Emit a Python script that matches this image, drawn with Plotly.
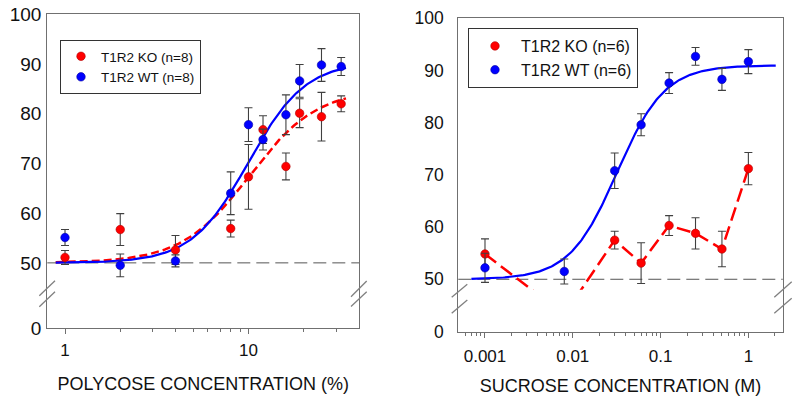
import numpy as np
import plotly.graph_objects as go

# ---------------- data ----------------
poly_x = [1, 2, 4, 8, 10, 12, 16, 19, 25, 32]
poly_ko = [51.1, 56.7, 52.6, 56.9, 67.3, 76.8, 69.4, 80.1, 79.4, 82.0]
poly_ko_err = [1.4, 3.2, 2.9, 1.7, 6.5, 2.8, 2.7, 2.9, 4.9, 1.6]
poly_wt = [55.1, 49.5, 50.4, 64.0, 77.8, 74.8, 79.8, 86.6, 89.8, 89.5]
poly_wt_err = [1.6, 2.3, 1.2, 4.3, 3.4, 2.1, 4.0, 3.3, 3.3, 1.8]

suc_x = [0.001, 0.008, 0.03, 0.06, 0.125, 0.25, 0.5, 1]
suc_ko = [54.85, 43.2, 57.5, 53.1, 60.3, 58.8, 55.8, 71.2]
suc_ko_err = [2.9, 0.0, 1.7, 3.9, 1.9, 3.0, 3.4, 3.1]
suc_wt = [52.2, 51.5, 70.8, 79.6, 87.6, 92.7, 88.3, 91.7]
suc_wt_err = [2.8, 2.4, 3.4, 2.1, 2.0, 1.7, 2.1, 2.3]

# Hill-fit parameters: (bottom, top, EC50, slope)
poly_wt_fit = (50, 90.5, 10.0, 2.8)
poly_ko_fit = (50, 85.0, 10.1, 2.35)
suc_wt_fit = (50, 91.0, 0.032, 1.6)
poly_fit_span = (0.89, 34)
suc_fit_span = (0.0007, 2.05)

y_ticks = [50, 60, 70, 80, 90, 100]
left_zero_pos = 36.9   # position of the "0" label below the axis break
right_zero_pos = 39.9

poly_xticks = [1, 10]
poly_minor = [2, 3, 4, 5, 6, 7, 8, 9, 20, 30]
suc_xticks = [0.001, 0.01, 0.1, 1]
suc_xtick_text = ["0.001", "0.01", "0.1", "1"]
suc_minor = [0.0006, 0.0007, 0.0008, 0.0009,
             0.002, 0.003, 0.004, 0.005, 0.006, 0.007, 0.008, 0.009,
             0.02, 0.03, 0.04, 0.05, 0.06, 0.07, 0.08, 0.09,
             0.2, 0.3, 0.4, 0.5, 0.6, 0.7, 0.8, 0.9, 2]

RED = "#ff0000"
BLUE = "#0000ff"
FONT = "Liberation Sans, Arial, sans-serif"
W, H = 799, 406


def hill(x, p):
    b, t, ec, h = p
    x = np.asarray(x, dtype=float)
    return b + (t - b) / (1 + (ec / x) ** h)


def px(x, y):
    return x / W, 1 - y / H


fig = go.Figure()

# ---------- left panel ----------
xf = np.logspace(np.log10(poly_fit_span[0]), np.log10(poly_fit_span[1]), 200)
fig.add_trace(go.Scatter(x=xf, y=hill(xf, poly_ko_fit), mode="lines", xaxis="x", yaxis="y",
                         line=dict(color=RED, width=2.5, dash="8px,4px"), showlegend=False, hoverinfo="skip"))
fig.add_trace(go.Scatter(x=xf, y=hill(xf, poly_wt_fit), mode="lines", xaxis="x", yaxis="y",
                         line=dict(color=BLUE, width=2.2), showlegend=False, hoverinfo="skip"))
err_style = dict(type="data", color="#404040", thickness=1.1, width=4)
fig.add_trace(go.Scatter(x=poly_x, y=poly_ko, mode="markers", xaxis="x", yaxis="y", name="T1R2 KO (n=8)",
                         error_y=dict(array=poly_ko_err, **err_style),
                         marker=dict(color=RED, size=8.5, line=dict(color="#b00000", width=0.6)),
                         legend="legend"))
fig.add_trace(go.Scatter(x=poly_x, y=poly_wt, mode="markers", xaxis="x", yaxis="y", name="T1R2 WT (n=8)",
                         error_y=dict(array=poly_wt_err, **err_style),
                         marker=dict(color=BLUE, size=8.5, line=dict(color="#0000a0", width=0.6)),
                         legend="legend"))

# ---------- right panel ----------
xs = np.logspace(np.log10(suc_fit_span[0]), np.log10(suc_fit_span[1]), 200)
fig.add_trace(go.Scatter(x=xs, y=hill(xs, suc_wt_fit), mode="lines", xaxis="x2", yaxis="y2",
                         line=dict(color=BLUE, width=2.2), showlegend=False, hoverinfo="skip"))
fig.add_trace(go.Scatter(x=suc_x, y=suc_ko, mode="lines", xaxis="x2", yaxis="y2",
                         line=dict(color=RED, width=2.5, dash="14px,6px"), showlegend=False, hoverinfo="skip"))
fig.add_trace(go.Scatter(x=suc_x, y=suc_ko, mode="markers", xaxis="x2", yaxis="y2", name="T1R2 KO (n=6)",
                         error_y=dict(array=suc_ko_err, **err_style),
                         marker=dict(color=RED, size=8.5, line=dict(color="#b00000", width=0.6)),
                         legend="legend2"))
fig.add_trace(go.Scatter(x=suc_x, y=suc_wt, mode="markers", xaxis="x2", yaxis="y2", name="T1R2 WT (n=6)",
                         error_y=dict(array=suc_wt_err, **err_style),
                         marker=dict(color=BLUE, size=8.5, line=dict(color="#0000a0", width=0.6)),
                         legend="legend2"))

AXC = "#707070"
common_x = dict(type="log", showgrid=False, zeroline=False, showline=True, linecolor=AXC, linewidth=1.3,
                mirror=True, ticks="outside", ticklen=5, tickcolor=AXC, tickwidth=1, automargin=False,
                tickfont=dict(family=FONT, size=17, color="#111"))
common_y = dict(showgrid=False, zeroline=False, showline=True, linecolor=AXC, linewidth=1.3, mirror=True,
                ticks="", automargin=False)
minor_style = dict(ticks="outside", ticklen=3, tickcolor=AXC, tickwidth=1, showgrid=False, tickmode="array")

fig.update_layout(
    template="none",
    width=W, height=H, margin=dict(l=0, r=0, t=0, b=0, autoexpand=False),
    paper_bgcolor="white", plot_bgcolor="white",
    font=dict(family=FONT, color="#111"),
    xaxis=dict(common_x, domain=[47.3 / W, 359.3 / W], range=[-0.0965, 1.604],
               tickmode="array", tickvals=poly_xticks, ticktext=[str(v) for v in poly_xticks],
               ticklabelstandoff=1, minor=dict(minor_style, tickvals=poly_minor),
               title=dict(text="POLYCOSE CONCENTRATION (%)", standoff=18,
                          font=dict(family=FONT, size=18, color="#111")), anchor="y"),
    yaxis=dict(common_y, domain=[(H - 328) / H, (H - 14.3) / H], range=[left_zero_pos, 100],
               tickmode="array", tickvals=[left_zero_pos] + y_ticks,
               ticktext=["0"] + [str(v) for v in y_ticks],
               tickfont=dict(family=FONT, size=19, color="#111"),
               ticklabelstandoff=1, anchor="x"),
    xaxis2=dict(common_x, domain=[458.3 / W, 782.7 / W], range=[-3.304, 0.391],
                tickmode="array", tickvals=suc_xticks, ticktext=suc_xtick_text,
                ticklabelstandoff=3, minor=dict(minor_style, tickvals=suc_minor),
                title=dict(text="SUCROSE CONCENTRATION (M)", standoff=14,
                           font=dict(family=FONT, size=18, color="#111")), anchor="y2"),
    yaxis2=dict(common_y, domain=[(H - 332) / H, (H - 18.3) / H], range=[right_zero_pos, 100],
                tickmode="array", tickvals=[right_zero_pos] + y_ticks,
                ticktext=["0"] + [str(v) for v in y_ticks],
                tickfont=dict(family=FONT, size=17.5, color="#111"),
                ticklabelstandoff=10, anchor="x2"),
    legend=dict(x=60 / W, y=1 - 40 / H, xanchor="left", yanchor="top", bordercolor="#333", borderwidth=1,
                bgcolor="white", font=dict(family=FONT, size=13.5, color="#111"), tracegroupgap=0),
    legend2=dict(x=468 / W, y=1 - 28 / H, xanchor="left", yanchor="top", bordercolor="#333", borderwidth=1,
                 bgcolor="white", font=dict(family=FONT, size=16, color="#111"), itemwidth=42, tracegroupgap=0),
)

shapes = []
# dashed reference line at 50
for xr, yr in (("x domain", "y"), ("x2 domain", "y2")):
    shapes.append(dict(type="line", xref=xr, yref=yr, x0=0, x1=1, y0=50, y1=50,
                       line=dict(color="#555", width=1, dash="13px,6px"), layer="below"))
# mask of the axis-break region in the right panel (hides the line segment below the break)
shapes.append(dict(type="rect", xref="x2 domain", yref="y2", x0=0.004, x1=0.996, y0=right_zero_pos + 0.4, y1=48.0,
                   fillcolor="white", line=dict(width=0), layer="above"))
# axis-break slashes (pixel positions)
slashes = [((39.3, 295.7), (55, 280.7)), ((39.3, 306.7), (55, 291.7)),
           ((351, 296.7), (366.7, 281)), ((351, 306.5), (366.7, 291.7)),
           ((451.7, 297.3), (467.3, 284.3)), ((451.7, 313.3), (467.3, 300)),
           ((774.3, 297.3), (791.7, 281.7)), ((774.3, 313.3), (791.7, 298.3))]
for (a, b) in slashes:
    x0, y0 = px(*a)
    x1, y1 = px(*b)
    shapes.append(dict(type="line", xref="paper", yref="paper", x0=x0, y0=y0, x1=x1, y1=y1,
                       line=dict(color="#808080", width=1.3), layer="above"))
fig.update_layout(shapes=shapes)

fig.write_html("out.html", config={"displayModeBar": False},
               post_script="document.body.style.margin='0';document.body.style.padding='0';")
